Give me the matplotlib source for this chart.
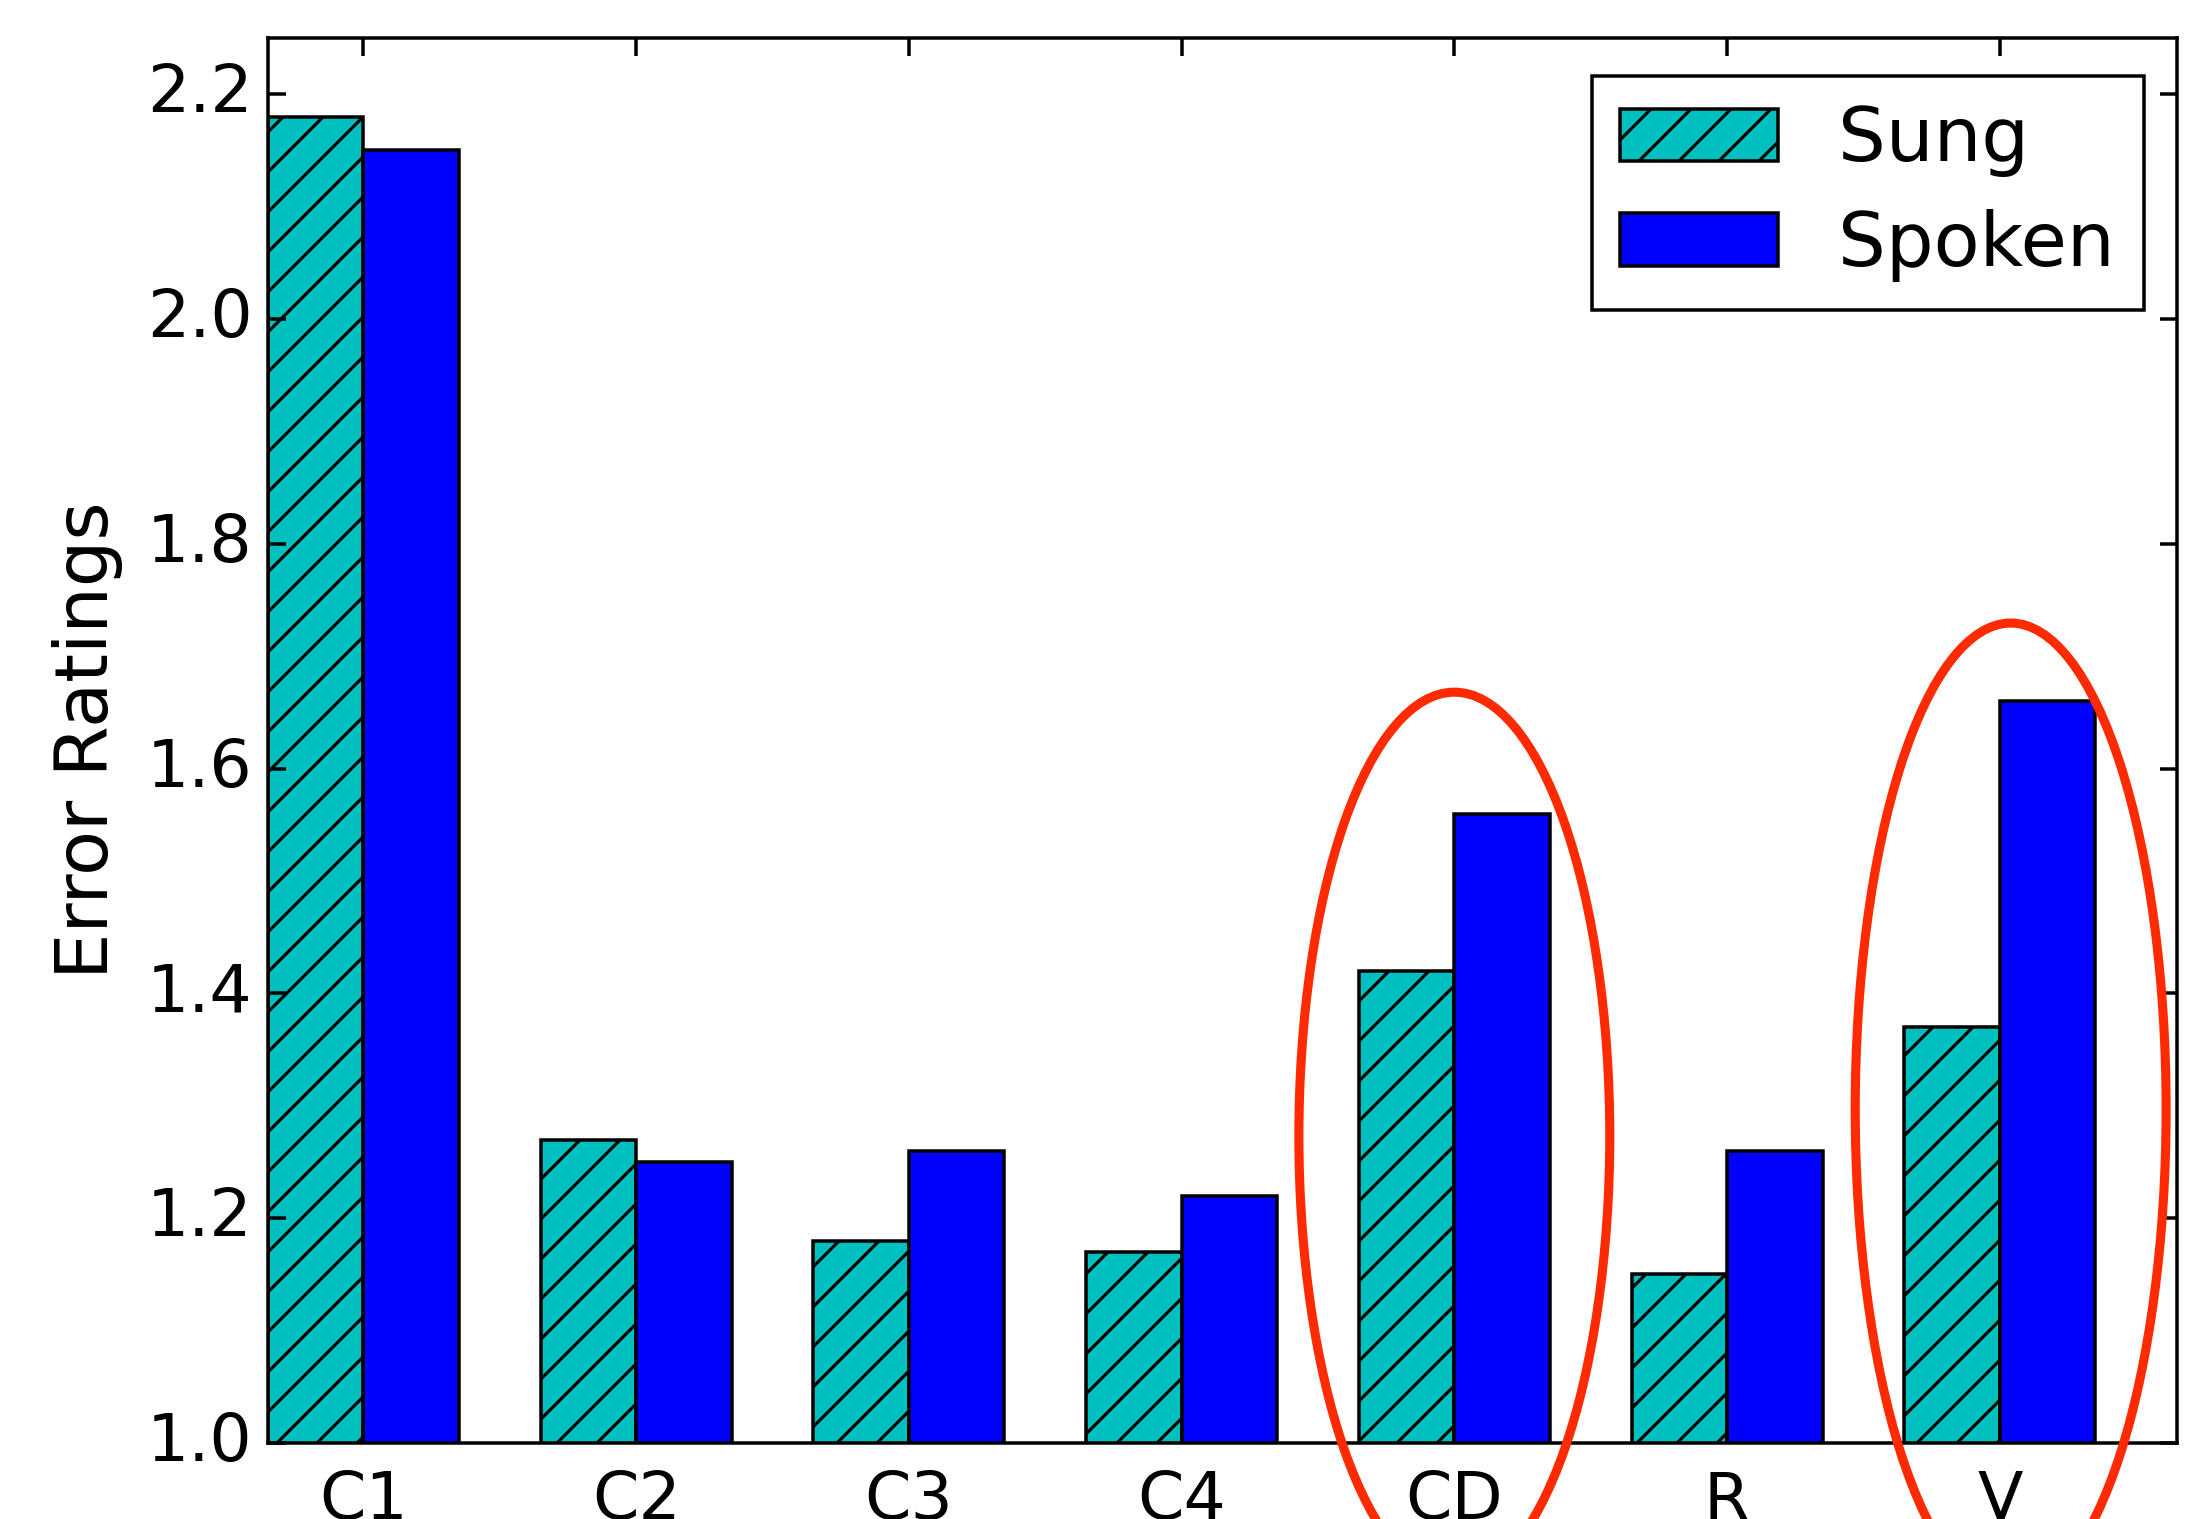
import matplotlib
matplotlib.use('Agg')
import matplotlib.pyplot as plt
import numpy as np
from matplotlib.patches import Ellipse

categories = ['C1', 'C2', 'C3', 'C4', 'CD', 'R', 'V']
sung = [2.18, 1.27, 1.18, 1.17, 1.42, 1.15, 1.37]
spoken = [2.15, 1.25, 1.26, 1.22, 1.56, 1.26, 1.66]
yticks = [1.0, 1.2, 1.4, 1.6, 1.8, 2.0, 2.2]

plt.style.use('classic')
plt.rcParams['font.family'] = ['DejaVu Sans']

DPI = 240
S = 252.0 / DPI  # scale so sizes in px stay as designed at 252 dpi
plt.rcParams['hatch.linewidth'] = 0.9 * S

fig = plt.figure(figsize=(2186 / DPI, 1519 / DPI), dpi=DPI, facecolor='white')
ax = fig.add_axes([0.1226, 0.05, 0.9959 - 0.1226, 0.975 - 0.05])

ind = np.arange(len(categories))
width = 0.35
ax.bar(ind, sung, width, align='edge', color='c', hatch='//', edgecolor='k',
       linewidth=1.0 * S, label='Sung')
ax.bar(ind + width, spoken, width, align='edge', color='b', edgecolor='k',
       linewidth=1.0 * S, label='Spoken')

for sp in ax.spines.values():
    sp.set_linewidth(1.0 * S)

ax.set_xlim(0, 7)
ax.set_ylim(1.0, 2.25)
ax.set_yticks(yticks)
ax.set_yticklabels(['%.1f' % v for v in yticks], fontsize=19 * S)
ax.set_xticks(ind + width)
ax.set_xticklabels(categories, fontsize=19 * S)
ax.set_ylabel('Error Ratings', fontsize=21 * S, labelpad=7)
ax.tick_params(axis='both', which='major', length=5 * S, width=1 * S,
               direction='in', top=True, right=True)
ax.tick_params(axis='x', pad=7.5 * S)
ax.tick_params(axis='y', pad=4.5 * S)

leg = ax.legend(loc='upper right', bbox_to_anchor=(0.9825, 0.9732),
                fontsize=21.5 * S, fancybox=False,
                shadow=False, frameon=True, labelspacing=0.42,
                handlelength=2.1, borderpad=0.38, handletextpad=0.8,
                borderaxespad=0.0)
leg.get_frame().set_edgecolor('black')
leg.get_frame().set_linewidth(1.0 * S)

# red highlight ellipses around CD and V
for name, cy, h in [('CD', 1.273, 0.79), ('V', 1.297, 0.865)]:
    i = categories.index(name)
    dx = 0.0 if name == 'CD' else 0.04
    e = Ellipse((i + width + dx, cy), 1.14, h, fill=False, edgecolor='#ff2a00',
                linewidth=2.6 * S, clip_on=False, zorder=10)
    ax.add_patch(e)

fig.savefig('out.png', dpi=DPI, facecolor='white')
